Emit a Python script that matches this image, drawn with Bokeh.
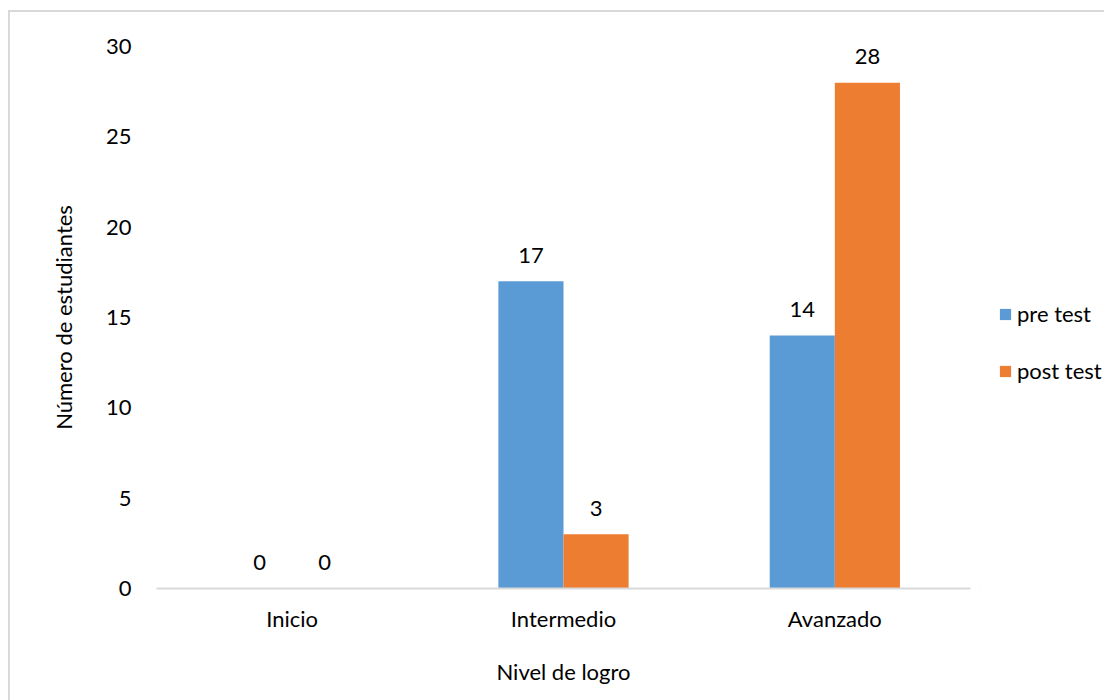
from bokeh.plotting import figure
from bokeh.layouts import row
from bokeh.models import ColumnDataSource, Legend, LegendItem
from bokeh.transform import dodge
from bokeh.core.properties import value
from bokeh.embed import file_html
from bokeh.resources import INLINE

# Data
niveles = ["Inicio", "Intermedio", "Avanzado"]
pre_test = [0, 17, 14]
post_test = [0, 3, 28]
y_ticks = [0, 5, 10, 15, 20, 25, 30]
series_names = ["pre test", "post test"]

FONT = "Lato"
FS = "22px"
BLUE = "#5B9BD5"
ORANGE = "#ED7D31"
GREY = "#D9D9D9"

src = ColumnDataSource(dict(
    nivel=niveles,
    pre=pre_test,
    post=post_test,
    pre_lbl=[str(v) for v in pre_test],
    post_lbl=[str(v) for v in post_test],
))

# Main chart
p = figure(
    x_range=niveles, y_range=(0, 30),
    width=970, height=688,
    output_backend="svg", toolbar_location=None,
    min_border_left=146, min_border_right=10,
    min_border_top=34, min_border_bottom=112,
)
p.outline_line_color = None
p.grid.visible = False

bar_w = 0.24
p.vbar(x=dodge("nivel", -bar_w / 2, range=p.x_range), top="pre", width=bar_w,
       source=src, fill_color=BLUE, line_color=None)
p.vbar(x=dodge("nivel", bar_w / 2, range=p.x_range), top="post", width=bar_w,
       source=src, fill_color=ORANGE, line_color=None)

# Value labels above the bars
for col, lbl, off in (("pre", "pre_lbl", -bar_w / 2), ("post", "post_lbl", bar_w / 2)):
    p.text(x=dodge("nivel", off, range=p.x_range), y=col, text=lbl, source=src,
           text_align="center", text_baseline="middle", y_offset=-26,
           text_font=value(FONT), text_font_size=FS, text_color="#000000")

# Axes
p.yaxis.ticker = y_ticks
p.yaxis.axis_line_color = None
p.yaxis.major_tick_line_color = None
p.yaxis.minor_tick_line_color = None
p.yaxis.major_label_standoff = 19
p.yaxis.axis_label = "Número de estudiantes"
p.yaxis.axis_label_standoff = 26

p.xaxis.axis_line_color = GREY
p.xaxis.axis_line_width = 2
p.xaxis.major_tick_line_color = None
p.xaxis.minor_tick_line_color = None
p.xaxis.major_label_standoff = 10
p.xaxis.axis_label = "Nivel de logro"
p.xaxis.axis_label_standoff = 23

for ax in (p.xaxis, p.yaxis):
    ax.major_label_text_font = FONT
    ax.major_label_text_font_size = FS
    ax.major_label_text_color = "#000000"
    ax.axis_label_text_font = FONT
    ax.axis_label_text_font_size = FS
    ax.axis_label_text_font_style = "normal"
    ax.axis_label_text_color = "#000000"

# Legend column to the right of the chart; its key renderers sit outside the visible range
lg = figure(
    width=124, height=688, x_range=(0, 1), y_range=(0, 1),
    output_backend="svg", toolbar_location=None,
    min_border=0,
)
lg.axis.visible = False
lg.grid.visible = False
lg.outline_line_color = None
key_src = ColumnDataSource(dict(x=[-5], top=[-5]))
key_pre = lg.vbar(x="x", top="top", width=0.1, source=key_src, fill_color=BLUE, line_color=None)
key_post = lg.vbar(x="x", top="top", width=0.1, source=key_src, fill_color=ORANGE, line_color=None)

legend = Legend(
    items=[LegendItem(label=series_names[0], renderers=[key_pre], index=0),
           LegendItem(label=series_names[1], renderers=[key_post], index=0)],
    location=(18, 204),
    glyph_width=14, glyph_height=14,
    label_text_font=FONT, label_text_font_size=FS, label_text_color="#000000",
    label_standoff=5, spacing=30, padding=0, margin=0,
    border_line_color=None, background_fill_alpha=0,
)
lg.add_layout(legend)

layout = row(p, lg, spacing=0)
layout.margin = (12, 0, 0, 10)
layout.styles = {"outline": f"2px solid {GREY}"}

open("out.html", "w").write(file_html(layout, INLINE))
